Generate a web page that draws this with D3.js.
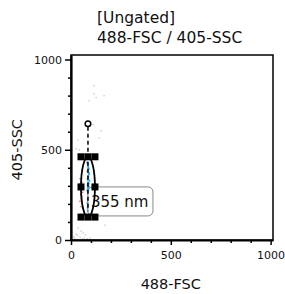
<!DOCTYPE html>
<html>
<head>
<meta charset="utf-8">
<script src="https://cdn.jsdelivr.net/npm/d3@7"></script>
<style>
  body { margin: 0; background: #fff; }
  text { font-family: "DejaVu Sans", sans-serif; }
</style>
</head>
<body>
<div id="plot"></div>
<script>
// Chart texts
const titleLines = ["[Ungated]", "488-FSC / 405-SSC"];
const xLabelText = "488-FSC";
const yLabelText = "405-SSC";
const majorTicks = [0, 500, 1000];
const minorTicks = [100, 200, 300, 400, 600, 700, 800, 900];

// Events (488-FSC, 405-SSC)
const grayX = [115, 115, 90, 125, 35, 140, 150, 40, 25, 165, 170, 10, 25, 45, 70, 95, 20, 55, 5, 35, 60, 15, 130, 110, 30, 80, 50, 65];
const grayY = [856, 811, 772, 789, 556, 567, 606, 500, 506, 800, 83, 22, 33, 17, 28, 11, 6, 6, 44, 67, 40, 14, 150, 640, 28, 8, 50, 12];
const blueX = [80, 85, 88, 82, 90, 86, 84, 92, 87, 83, 89, 85, 81, 88, 86, 90, 84, 87, 82, 85, 89, 86, 83, 88, 85, 87,
               84, 86, 88, 85, 83, 87, 86, 84, 88, 85, 86, 87, 84, 85, 86, 83];
const blueY = [430, 410, 395, 380, 365, 350, 340, 330, 318, 305, 295, 285, 275, 262, 250, 240, 228, 215, 205, 195, 185, 172, 160, 150, 320, 270,
               420, 400, 372, 356, 335, 312, 300, 290, 280, 268, 255, 235, 222, 210, 190, 178];
const redX = [45, 55, 50, 40, 58, 48, 52, 44, 56, 50, 42, 54];
const redY = [340, 320, 300, 280, 265, 250, 230, 215, 200, 185, 310, 240];

// Gate: center and radii in data units, plus its label
const gateCenter = [85, 294];
const gateRadii = [35, 167];
const gateLabel = "355 nm";

const margin = {top: 55, right: 12, bottom: 54, left: 71};
const W = 285, H = 294;
const width = W - margin.left - margin.right;
const height = H - margin.top - margin.bottom;

const svg = d3.select("#plot").append("svg")
    .attr("width", W)
    .attr("height", H);

const g = svg.append("g")
    .attr("transform", `translate(${margin.left},${margin.top})`);

const x = d3.scaleLinear().domain([0, 1012]).range([0, width]);
const y = d3.scaleLinear().domain([0, 1025]).range([height, 0]);

// Title
svg.append("g").selectAll("text")
    .data(titleLines)
    .join("text")
    .attr("x", 97)
    .attr("y", (d, i) => 23 + i * 20)
    .attr("font-size", 15.5)
    .attr("fill", "#111")
    .text(d => d);

// Dots
const dots = g.append("g");
dots.selectAll(".gray")
    .data(grayX.map((v, i) => [v, grayY[i]]))
    .join("rect")
    .attr("x", d => x(d[0]) - 0.5)
    .attr("y", d => y(d[1]) - 0.5)
    .attr("width", 1.3).attr("height", 1.3)
    .attr("fill", "#c4c4c4");
dots.selectAll(".red")
    .data(redX.map((v, i) => [v, redY[i]]))
    .join("rect")
    .attr("x", d => x(d[0]) - 0.6)
    .attr("y", d => y(d[1]) - 0.6)
    .attr("width", 1.4).attr("height", 1.4)
    .attr("fill", "#e86a6a");
dots.selectAll(".blue")
    .data(blueX.map((v, i) => [v, blueY[i]]))
    .join("rect")
    .attr("x", d => x(d[0]) - 0.8)
    .attr("y", d => y(d[1]) - 0.8)
    .attr("width", 1.8).attr("height", 1.8)
    .attr("fill", "#2a9df4");

// Frame
g.append("rect")
    .attr("width", width).attr("height", height)
    .attr("fill", "none")
    .attr("stroke", "#000")
    .attr("stroke-width", 1.5);

// Axes
g.append("g")
    .attr("transform", `translate(0,${height})`)
    .call(d3.axisBottom(x).tickValues(majorTicks).tickFormat(d3.format("d")).tickSize(5).tickPadding(6).tickSizeOuter(0));
g.append("g")
    .attr("transform", `translate(0,${height})`)
    .call(d3.axisBottom(x).tickValues(minorTicks).tickSize(3).tickFormat("").tickSizeOuter(0))
    .select(".domain").remove();
g.append("g")
    .call(d3.axisLeft(y).tickValues(majorTicks).tickFormat(d3.format("d")).tickSize(6).tickPadding(3).tickSizeOuter(0));
g.append("g")
    .call(d3.axisLeft(y).tickValues(minorTicks).tickSize(3).tickFormat("").tickSizeOuter(0))
    .select(".domain").remove();

g.selectAll(".domain").attr("stroke-width", 2.2).attr("stroke", "#000");
g.selectAll(".tick line").attr("stroke-width", 1.5).attr("stroke", "#000");
g.selectAll(".tick text")
    .attr("font-family", "DejaVu Sans, sans-serif")
    .attr("font-size", 11)
    .attr("fill", "#111");

// Axis labels
svg.append("text")
    .attr("text-anchor", "middle")
    .attr("x", margin.left + x(500))
    .attr("y", 289)
    .attr("font-size", 14.5)
    .attr("fill", "#111")
    .text(xLabelText);
svg.append("text")
    .attr("text-anchor", "middle")
    .attr("transform", `translate(22,${margin.top + y(500)}) rotate(-90)`)
    .attr("font-size", 14.5)
    .attr("fill", "#111")
    .text(yLabelText);

// Gate
const cx = x(gateCenter[0]), cy = y(gateCenter[1]);
const rx = x(gateCenter[0] + gateRadii[0]) - cx;
const ry = cy - y(gateCenter[1] + gateRadii[1]);

// Label box
g.append("rect")
    .attr("x", cx)
    .attr("y", cy)
    .attr("width", 65)
    .attr("height", 29)
    .attr("rx", 5)
    .attr("fill", "#fff")
    .attr("stroke", "#888")
    .attr("stroke-width", 1);
g.append("text")
    .attr("x", cx + 3)
    .attr("y", cy + 20.5)
    .attr("font-size", 15)
    .attr("fill", "#111")
    .text(gateLabel);

// Dashed centre line and rotation handle
g.append("line")
    .attr("x1", cx).attr("x2", cx)
    .attr("y1", cy - ry - 30).attr("y2", cy + ry - 6)
    .attr("stroke", "#000")
    .attr("stroke-width", 1.5)
    .attr("stroke-dasharray", "4,3");
g.append("circle")
    .attr("cx", cx).attr("cy", cy - ry - 33)
    .attr("r", 2.8)
    .attr("fill", "#fff")
    .attr("stroke", "#000")
    .attr("stroke-width", 1.5);

g.append("ellipse")
    .attr("cx", cx).attr("cy", cy)
    .attr("rx", rx).attr("ry", ry)
    .attr("fill", "none")
    .attr("stroke", "#000")
    .attr("stroke-width", 1.8);

// Handles
const handles = [
    [-1, -1], [0, -1], [1, -1],
    [-1, 0], [1, 0],
    [-1, 1], [0, 1], [1, 1]
];
const hs = 7;
g.append("g").selectAll("rect")
    .data(handles)
    .join("rect")
    .attr("x", d => cx + d[0] * rx - hs / 2)
    .attr("y", d => cy + d[1] * ry - hs / 2)
    .attr("width", hs).attr("height", hs)
    .attr("fill", "#000");
</script>
</body>
</html>
